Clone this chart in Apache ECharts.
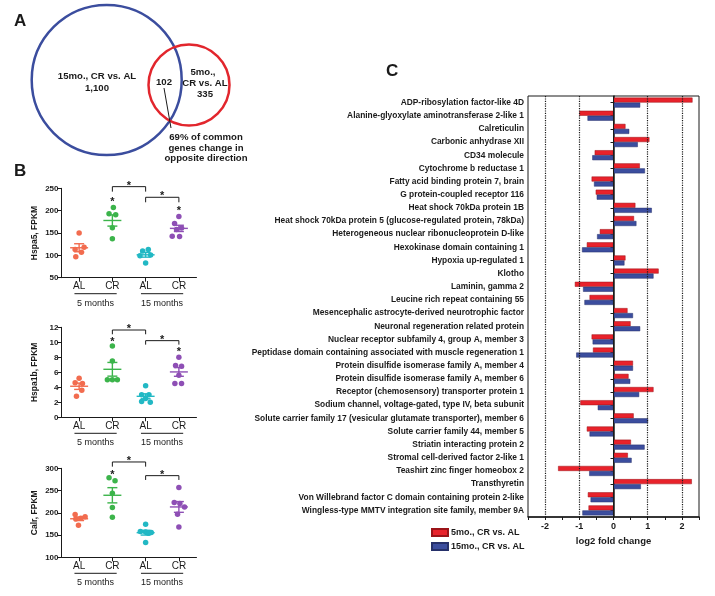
<!DOCTYPE html>
<html><head><meta charset="utf-8">
<script src="https://cdn.jsdelivr.net/npm/echarts@6/dist/echarts.min.js"></script>
<style>html,body{margin:0;padding:0;background:#fff}#c{width:715px;height:596px}</style>
</head><body><div id="c"></div>
<script>
// ---------- Panel C data ----------
const geneNames = [
  'ADP-ribosylation factor-like 4D',
  'Alanine-glyoxylate aminotransferase 2-like 1',
  'Calreticulin',
  'Carbonic anhydrase XII',
  'CD34 molecule',
  'Cytochrome b reductase 1',
  'Fatty acid binding protein 7, brain',
  'G protein-coupled receptor 116',
  'Heat shock 70kDa protein 1B',
  'Heat shock 70kDa protein 5 (glucose-regulated protein, 78kDa)',
  'Heterogeneous nuclear ribonucleoprotein D-like',
  'Hexokinase domain containing 1',
  'Hypoxia up-regulated 1',
  'Klotho',
  'Laminin, gamma 2',
  'Leucine rich repeat containing 55',
  'Mesencephalic astrocyte-derived neurotrophic factor',
  'Neuronal regeneration related protein',
  'Nuclear receptor subfamily 4, group A, member 3',
  'Peptidase domain containing associated with muscle regeneration 1',
  'Protein disulfide isomerase family A, member 4',
  'Protein disulfide isomerase family A, member 6',
  'Receptor (chemosensory) transporter protein 1',
  'Sodium channel, voltage-gated, type IV, beta subunit',
  'Solute carrier family 17 (vesicular glutamate transporter), member 6',
  'Solute carrier family 44, member 5',
  'Striatin interacting protein 2',
  'Stromal cell-derived factor 2-like 1',
  'Teashirt zinc finger homeobox 2',
  'Transthyretin',
  'Von Willebrand factor C domain containing protein 2-like',
  'Wingless-type MMTV integration site family, member 9A'
];
const fc5mo  = [2.31,-1.00,0.35,1.05,-0.55,0.77,-0.64,-0.52,0.64,0.60,-0.40,-0.78,0.35,1.32,-1.13,-0.70,0.41,0.50,-0.64,-0.60,0.57,0.44,1.17,-0.97,0.59,-0.78,0.51,0.42,-1.62,2.29,-0.75,-0.73];
const fc15mo = [0.78,-0.76,0.46,0.71,-0.62,0.92,-0.57,-0.49,1.12,0.67,-0.48,-0.92,0.32,1.17,-0.89,-0.85,0.57,0.78,-0.61,-1.09,0.57,0.49,0.75,-0.46,1.01,-0.70,0.91,0.53,-0.71,0.80,-0.67,-0.91];
const seriesNames = ['5mo., CR vs. AL', '15mo., CR vs. AL'];
const fcRefLines = [-2, -1, 1, 2];
const fcAxisName = 'log2 fold change';

// ---------- Panel A data ----------
const vennOnly15 = 1100, vennCommon = 102, vennOnly5 = 335;
const vennNote = ['69% of common', 'genes change in', 'opposite direction'];

// ---------- Panel B data ----------
const groupLabels = ['AL', 'CR', 'AL', 'CR'];
const ageLabels = ['5 months', '15 months'];
const plotNames = ['Hspa5, FPKM', 'Hspa1b, FPKM', 'Calr, FPKM'];
const hspa5 = [[150,118,113,107,97],[207,193,191,162,137],[113,110,101,99,83],[187,171,161,158,143,142]];
const hspa5Jit = [[0,0.15,-0.12,0.07,-0.1],[0.03,-0.1,0.1,0,0],[0.08,-0.09,0.15,-0.17,0],[0,-0.13,0.08,-0.07,-0.2,0.02]];
const hspa1b = [[5.2,4.6,4.5,3.6,2.8],[9.5,7.5,5.0,5.0,5.0],[4.2,3.0,3.0,2.5,2.1,2.0],[8.0,6.9,6.8,5.6,4.5,4.5]];
const hspa1bJit = [[0,-0.12,0.1,0.08,-0.08],[0,0,-0.15,0,0.15],[0,-0.12,0.1,0,-0.12,0.14],[0,-0.1,0.08,0,-0.12,0.08]];
const calr = [[196,191,188,186,172],[279,272,244,212,190],[174,158,157,156,154,133],[257,223,221,213,197,168]];
const calrJit = [[-0.12,0.18,0.05,-0.1,-0.02],[-0.1,0.08,0,0,0],[0,-0.16,0,0.17,0.08,0],[0,-0.14,0.03,0.17,-0.04,0]];
// brackets: [fromGroup, toGroup, lineValue, dropValue]
const hspa5Brackets = [[2,3,253.7,242.5],[3,4,229.9,218.7]];
const hspa1bBrackets = [[2,3,11.64,11.07],[3,4,10.22,9.69]];
const calrBrackets = [[2,3,314.2,303.7],[3,4,283.5,273.8]];
// stars above groups: [group, value]
const hspa5Stars = [[2,225],[4,205]];
const hspa1bStars = [[2,10.4],[4,9.0]];
const calrStars = [[2,291]];
const hspa5Ticks = {min:50, max:250, interval:50};
const hspa1bTicks = {min:0, max:12, interval:2};
const calrTicks = {min:100, max:300, interval:50};

// ---------- styles ----------
const FONT = 'Liberation Sans, Arial, sans-serif';
const groupColors = ['#f26c4f', '#3cb44b', '#22b8c4', '#8e4fb5'];
const RED = '#e8222b', BLUE = '#3b4d9e';
const INK = '#1a1a1a';

const plots = [
  {vals: hspa5, jit: hspa5Jit, br: hspa5Brackets, st: hspa5Stars, ticks: hspa5Ticks, top: 188.3, h: 89.4},
  {vals: hspa1b, jit: hspa1bJit, br: hspa1bBrackets, st: hspa1bStars, ticks: hspa1bTicks, top: 327.3, h: 90},
  {vals: calr, jit: calrJit, br: calrBrackets, st: calrStars, ticks: calrTicks, top: 468.3, h: 89}
];

function mean(a){return a.reduce((s,v)=>s+v,0)/a.length;}
function sem(a){const m=mean(a);const v=a.reduce((s,x)=>s+(x-m)*(x-m),0)/(a.length-1);return Math.sqrt(v/a.length);}

const grids = [{left:528, top:96, width:171, height:421, show:true, borderColor:INK, borderWidth:1}];
const xAxes = [{
  gridIndex:0, type:'value', min:-2.5, max:2.5, interval:0.5,
  axisLine:{show:true, onZero:false, lineStyle:{color:INK, width:1.5}},
  axisTick:{show:true, length:3, lineStyle:{color:INK}},
  splitLine:{show:false},
  axisLabel:{fontSize:9, fontWeight:'bold', color:INK, fontFamily:FONT, margin:5,
    formatter: v => (Number.isInteger(v) && Math.abs(v) <= 2) ? String(v) : ''},
  name: fcAxisName, nameLocation:'middle', nameGap:18,
  nameTextStyle:{fontSize:9.5, fontWeight:'bold', color:INK, fontFamily:FONT}
}];
const yAxes = [{
  gridIndex:0, type:'category', data:geneNames, inverse:true,
  axisLine:{show:true, lineStyle:{color:INK, width:1.5}},
  axisTick:{show:true, alignWithLabel:true, length:3, lineStyle:{color:INK}},
  axisLabel:{interval:0, fontSize:8.4, fontWeight:'bold', color:INK, fontFamily:FONT, margin:4}
}];
const series = [];

// reference lines (behind bars)
series.push({
  type:'line', xAxisIndex:0, yAxisIndex:0, data:[], z:1, silent:true,
  markLine:{silent:true, symbol:['none','none'], label:{show:false}, animation:false,
    data: fcRefLines.map(v => ({xAxis:v, lineStyle:{type:'dotted', color:INK, width:1.2}}))
  }
});
series.push({
  name:seriesNames[0], type:'bar', xAxisIndex:0, yAxisIndex:0, data:fc5mo, z:3,
  barWidth:5, barGap:'0%', itemStyle:{color:RED, borderColor:'#9b1318', borderWidth:0.5}
});
series.push({
  name:seriesNames[1], type:'bar', xAxisIndex:0, yAxisIndex:0, data:fc15mo, z:3,
  barWidth:5, barGap:'0%', itemStyle:{color:BLUE, borderColor:'#26306a', borderWidth:0.5},
  markLine:{silent:true, symbol:['none','none'], label:{show:false}, animation:false, z:4,
    data:[{xAxis:0, lineStyle:{type:'solid', color:INK, width:1}}]}
});

plots.forEach((p, k) => {
  const gi = k + 1;
  grids.push({left:61.5, top:p.top, width:135, height:p.h});
  xAxes.push({
    gridIndex:gi, type:'value', min:0.47, max:4.53,
    axisLine:{show:true, onZero:false, lineStyle:{color:INK, width:1}},
    axisTick:{show:true, length:4, customValues:[1,2,3,4], lineStyle:{color:INK}},
    axisLabel:{customValues:[1,2,3,4], formatter: v => groupLabels[Math.round(v)-1] || '',
      fontSize:10, color:INK, fontFamily:FONT, margin:4},
    splitLine:{show:false}
  });
  yAxes.push({
    gridIndex:gi, type:'value', min:p.ticks.min, max:p.ticks.max, interval:p.ticks.interval,
    axisLine:{show:true, lineStyle:{color:INK, width:1}},
    axisTick:{show:true, length:4, lineStyle:{color:INK}},
    axisLabel:{fontSize:8, fontWeight:'bold', color:INK, fontFamily:FONT, margin:3},
    splitLine:{show:false},
    name:plotNames[k], nameLocation:'middle', nameRotate:90, nameGap:22,
    nameTextStyle:{fontSize:8.5, fontWeight:'bold', color:INK, fontFamily:FONT}
  });
  p.vals.forEach((vals, g) => {
    series.push({
      type:'scatter', xAxisIndex:gi, yAxisIndex:gi, symbolSize:5.5, z:3,
      itemStyle:{color:groupColors[g], opacity:1},
      data: vals.map((v, i) => [g + 1 + p.jit[g][i], v])
    });
  });
  // mean +/- SEM
  series.push({
    type:'custom', xAxisIndex:gi, yAxisIndex:gi, z:4, silent:true,
    data: p.vals.map((vals, g) => [g + 1, mean(vals), sem(vals)]),
    renderItem: (params, api) => {
      const x = api.value(0), m = api.value(1), s = api.value(2);
      const c = api.coord([x, m]), t = api.coord([x, m + s]), b = api.coord([x, m - s]);
      const col = groupColors[x - 1];
      const st = {stroke:col, lineWidth:1.4};
      return {type:'group', children:[
        {type:'line', shape:{x1:c[0]-9, y1:c[1], x2:c[0]+9, y2:c[1]}, style:st},
        {type:'line', shape:{x1:c[0], y1:t[1], x2:c[0], y2:b[1]}, style:st},
        {type:'line', shape:{x1:c[0]-5, y1:t[1], x2:c[0]+5, y2:t[1]}, style:st},
        {type:'line', shape:{x1:c[0]-5, y1:b[1], x2:c[0]+5, y2:b[1]}, style:st}
      ]};
    }
  });
  // significance brackets
  series.push({
    type:'custom', xAxisIndex:gi, yAxisIndex:gi, clip:false, z:4, silent:true,
    data: p.br,
    renderItem: (params, api) => {
      const a = api.coord([api.value(0), api.value(2)]);
      const b = api.coord([api.value(1), api.value(2)]);
      const d = api.coord([api.value(0), api.value(3)]);
      return {type:'group', children:[
        {type:'polyline', shape:{points:[[a[0], d[1]], [a[0], a[1]], [b[0], b[1]], [b[0], d[1]]]},
          style:{stroke:INK, lineWidth:1, fill:'none'}},
        {type:'text', style:{text:'*', x:(a[0]+b[0])/2, y:a[1]-1, align:'center', verticalAlign:'middle',
          fontSize:11, fontWeight:'bold', fontFamily:FONT, fill:INK}}
      ]};
    }
  });
  // stars above groups
  series.push({
    type:'custom', xAxisIndex:gi, yAxisIndex:gi, clip:false, z:4, silent:true,
    data: p.st,
    renderItem: (params, api) => {
      const c = api.coord([api.value(0), api.value(1)]);
      return {type:'text', style:{text:'*', x:c[0], y:c[1]+2.2, align:'center', verticalAlign:'middle',
        fontSize:11, fontWeight:'bold', fontFamily:FONT, fill:INK}};
    }
  });
  // age group underline + label
  series.push({
    type:'custom', xAxisIndex:gi, yAxisIndex:gi, clip:false, z:4, silent:true,
    data: [[1, 2, 0], [3, 4, 1]],
    renderItem: (params, api) => {
      const a = api.coord([api.value(0) - 0.14, p.ticks.min]);
      const b = api.coord([api.value(1) + 0.13, p.ticks.min]);
      return {type:'group', children:[
        {type:'line', shape:{x1:a[0], y1:a[1]+16, x2:b[0], y2:b[1]+16}, style:{stroke:INK, lineWidth:1}},
        {type:'text', style:{text:ageLabels[api.value(2)], x:(a[0]+b[0])/2, y:a[1]+25.7, align:'center',
          verticalAlign:'middle', fontSize:9, fontFamily:FONT, fill:INK}}
      ]};
    }
  });
});

// Panel A Venn
series.push({
  type:'custom', coordinateSystem:'none', silent:true, z:5,
  data:[[vennOnly15, vennCommon, vennOnly5]],
  renderItem: (params, api) => {
    const fmt = v => Number(v).toLocaleString('en-US');
    const t = (text, x, y) => ({type:'text', style:{text, x, y, align:'center', verticalAlign:'middle',
      fontSize:9.6, fontWeight:'bold', fontFamily:FONT, fill:INK}});
    return {type:'group', children:[
      {type:'circle', shape:{cx:106.7, cy:80, r:75}, style:{fill:'none', stroke:BLUE, lineWidth:2.5}},
      {type:'circle', shape:{cx:189, cy:85, r:40.5}, style:{fill:'none', stroke:'#e2262d', lineWidth:2.5}},
      t('15mo., CR vs. AL', 97, 76), t(fmt(api.value(0)), 97, 88),
      t(fmt(api.value(1)), 164, 82),
      t('5mo.,', 203, 72), t('CR vs. AL', 205, 83), t(fmt(api.value(2)), 205, 94),
      {type:'line', shape:{x1:164, y1:88, x2:171, y2:128}, style:{stroke:INK, lineWidth:1}},
      t(vennNote[0], 206, 137), t(vennNote[1], 206, 148), t(vennNote[2], 206, 158)
    ]};
  }
});

const option = {
  animation:false,
  textStyle:{fontFamily:FONT},
  grid:grids, xAxis:xAxes, yAxis:yAxes, series:series,
  legend:{data:seriesNames, orient:'vertical', left:426, top:523, itemWidth:16, itemHeight:7, itemGap:5,
    icon:'rect', selectedMode:false, textStyle:{fontSize:9, fontWeight:'bold', color:INK, fontFamily:FONT, padding:[0,0,0,-2]}},
  graphic:[
    {type:'text', left:14, top:13, style:{text:'A', fontSize:17, fontWeight:'bold', fontFamily:FONT, fill:INK}},
    {type:'text', left:14, top:163, style:{text:'B', fontSize:17, fontWeight:'bold', fontFamily:FONT, fill:INK}},
    {type:'text', left:386, top:63, style:{text:'C', fontSize:17, fontWeight:'bold', fontFamily:FONT, fill:INK}}
  ]
};
const chart = echarts.init(document.getElementById('c'), null, {renderer:'canvas'});
chart.setOption(option);
</script></body></html>
